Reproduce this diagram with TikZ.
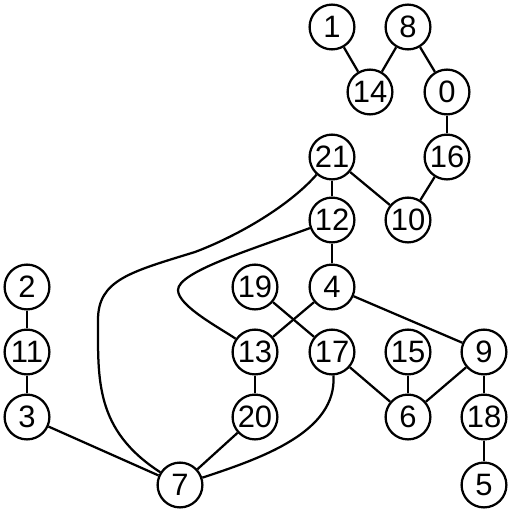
\documentclass[tikz,border=0pt]{standalone}
\usepackage{fontspec}
\setmainfont{Liberation Sans}
\begin{document}
\begin{tikzpicture}[
  x=0.025cm, y=-0.025cm,
  every node/.style={font=\fontsize{22}{24}\selectfont},
  vertex/.style={
    draw,
    circle,
    fill=white,
    line width=1.6pt,
    inner sep=0pt,
    minimum size=1.12cm
  },
  edge/.style={line width=1.6pt}
]
\useasboundingbox (0,0) rectangle (512,512);
\node[vertex] (n1) at (332,27) {1};
\node[vertex] (n8) at (408,27) {8};
\node[vertex] (n14) at (370,92) {14};
\node[vertex] (n0) at (447,92) {0};
\node[vertex] (n21) at (332,157) {21};
\node[vertex] (n16) at (447,157) {16};
\node[vertex] (n12) at (332,220) {12};
\node[vertex] (n10) at (408,220) {10};
\node[vertex] (n2) at (27,287) {2};
\node[vertex] (n19) at (255,287) {19};
\node[vertex] (n4) at (332,287) {4};
\node[vertex] (n11) at (27,352) {11};
\node[vertex] (n13) at (255,352) {13};
\node[vertex] (n17) at (332,352) {17};
\node[vertex] (n15) at (408,352) {15};
\node[vertex] (n9) at (484,352) {9};
\node[vertex] (n3) at (27,417) {3};
\node[vertex] (n20) at (255,417) {20};
\node[vertex] (n6) at (408,417) {6};
\node[vertex] (n18) at (484,417) {18};
\node[vertex] (n7) at (180,485) {7};
\node[vertex] (n5) at (484,485) {5};
\draw[edge] (n1) -- (n14);
\draw[edge] (n14) -- (n8);
\draw[edge] (n8) -- (n0);
\draw[edge] (n0) -- (n16);
\draw[edge] (n16) -- (n10);
\draw[edge] (n21) -- (n10);
\draw[edge] (n21) -- (n12);
\draw[edge] (n12) -- (n4);
\draw[edge] (n4) -- (n13);
\draw[edge] (n19) -- (n17);
\draw[edge] (n4) -- (n9);
\draw[edge] (n9) -- (n6);
\draw[edge] (n15) -- (n6);
\draw[edge] (n17) -- (n6);
\draw[edge] (n9) -- (n18);
\draw[edge] (n18) -- (n5);
\draw[edge] (n2) -- (n11);
\draw[edge] (n11) -- (n3);
\draw[edge] (n3) -- (n7);
\draw[edge] (n13) -- (n20);
\draw[edge] (n20) -- (n7);
% curved edges
\draw[edge] (n7) .. controls (262,458) and (337,432) .. (n17);
\draw[edge] (n21) .. controls (290,205) and (240,235) .. (195,252)
  .. controls (130,272) and (98,280) .. (98,320)
  .. controls (98,380) and (95,430) .. (n7);
\draw[edge] (n12) .. controls (250,250) and (178,272) .. (178,290)
  .. controls (178,306) and (220,328) .. (n13);
\end{tikzpicture}
\end{document}
